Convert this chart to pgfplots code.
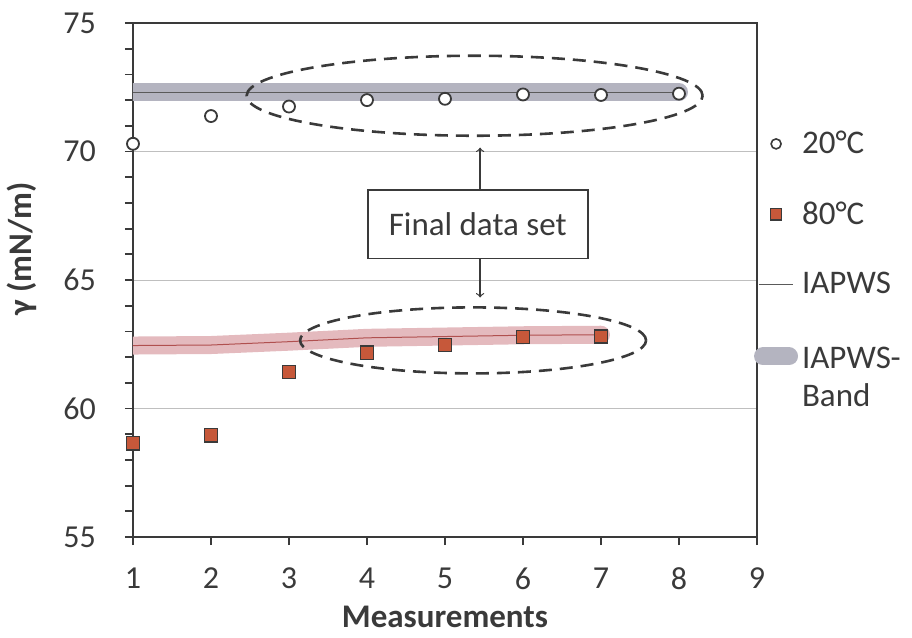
\documentclass[border=0pt]{standalone}
\usepackage{pgfplots}
\pgfplotsset{compat=1.18}
\usepackage{fontspec}
\setmainfont{Carlito}

\definecolor{axisgray}{HTML}{3A3A3A}
\definecolor{bandgray}{HTML}{B4B4C0}
\definecolor{linegray}{HTML}{5A5A5A}
\definecolor{bandpink}{HTML}{E4BABE}
\definecolor{linered}{HTML}{B0504F}
\definecolor{sqfill}{HTML}{C6583A}

\begin{document}
\begin{tikzpicture}
% fix the page to the reference frame (1px = 0.5pt)
\useasboundingbox (-66.5pt,-50.5pt) rectangle (389.5pt,268.5pt);
\begin{axis}[
    at={(0,0)}, anchor=south west,
    scale only axis, width=312pt, height=257pt,
    xmin=1, xmax=9, ymin=55, ymax=75,
    xtick={1,...,9}, ytick={55,60,...,75}, minor y tick num=4,
    tick pos=left,
    tick align=outside, major tick length=4pt, minor tick length=4pt,
    ymajorgrids, grid style={gray!50, line width=0.5pt},
    axis line style={axisgray, line width=0.9pt},
    tick style={axisgray, line width=0.9pt},
    /pgf/number format/assume math mode=true,
    ticklabel style={font=\fontsize{16}{19}\selectfont, text=axisgray},
    xticklabel style={yshift=-8pt},
    yticklabel style={xshift=-11pt},
    label style={font=\fontsize{16.5}{19}\selectfont\bfseries, text=axisgray},
    xlabel={Measurements}, ylabel={γ (mN/m)},
    xlabel style={at={(axis description cs:0.5,-0.155)}, anchor=center},
    ylabel style={at={(axis description cs:-0.178,0.56)}, anchor=center},
    legend style={at={(0.985,0.806)}, anchor=north west, draw=none, fill=none,
        font=\fontsize{16.5}{19}\selectfont, row sep=18.5pt,
        nodes={text=axisgray}},
    legend cell align=left,
]
% IAPWS bands
\addplot[forget plot, no marks, line width=9pt, line cap=round, bandgray]
    coordinates {(1,72.31) (2,72.31) (3,72.31) (4,72.31) (5,72.31) (6,72.31) (7,72.31) (8,72.31)};
\addplot[forget plot, no marks, line width=9pt, line cap=round, bandpink]
    coordinates {(1,62.45) (2,62.47) (3,62.60) (4,62.75) (5,62.80) (6,62.85) (7,62.87)};
% IAPWS values
\addplot[forget plot, no marks, line width=0.6pt, linegray]
    coordinates {(1,72.31) (2,72.31) (3,72.31) (4,72.31) (5,72.31) (6,72.31) (7,72.31) (8,72.31)};
\addplot[forget plot, no marks, line width=0.5pt, linered]
    coordinates {(1,62.45) (2,62.47) (3,62.60) (4,62.75) (5,62.80) (6,62.85) (7,62.87)};
% measurements
\addplot[forget plot, only marks, mark=*, mark size=3pt,
    mark options={fill=white, draw=axisgray, line width=0.9pt}]
    coordinates {(1,70.3) (2,71.38) (3,71.75) (4,72.0) (5,72.05) (6,72.22) (7,72.2) (8,72.25)};
\addplot[forget plot, only marks, mark=square*, mark size=3.3pt,
    mark options={fill=sqfill, draw=axisgray, line width=0.8pt}]
    coordinates {(1,58.65) (2,58.96) (3,61.42) (4,62.17) (5,62.47) (6,62.78) (7,62.8)};

% legend
\addlegendimage{only marks, mark=*, mark size=2.5pt, mark options={fill=white, draw=axisgray, line width=0.8pt}}
\addlegendentry{20°C}
\addlegendimage{only marks, mark=square*, mark size=2.8pt, mark options={fill=sqfill, draw=axisgray, line width=0.6pt}}
\addlegendentry{80°C}
\addlegendimage{no marks, linegray, line width=0.6pt}
\addlegendentry{IAPWS}
\addlegendimage{legend image code/.code={\draw[bandgray, line width=9pt, line cap=round] (2pt,0pt) -- (15pt,0pt);}}
\addlegendentry{\begin{tabular}[t]{@{}l@{}}IAPWS-\\Band\end{tabular}}

% annotations
\draw[axisgray, line width=1.3pt, dash pattern=on 6.5pt off 4pt]
    (axis cs:5.38,72.17) ellipse [x radius=114pt, y radius=20pt];
\draw[axisgray, line width=1.3pt, dash pattern=on 6.5pt off 4pt]
    (axis cs:5.36,62.65) ellipse [x radius=86.5pt, y radius=16.5pt];
\draw[axisgray, line width=0.6pt, ->] (axis cs:5.45,68.51) -- (axis cs:5.45,70.15);
\draw[axisgray, line width=0.6pt, ->] (axis cs:5.45,65.83) -- (axis cs:5.45,64.32);
\draw[axisgray, line width=0.8pt, fill=white] (axis cs:4.01,65.83) rectangle (axis cs:6.83,68.51);
\node[text=axisgray, font=\fontsize{16.5}{19}\selectfont] at (axis cs:5.42,67.17) {Final data set};
\end{axis}
\end{tikzpicture}
\end{document}
